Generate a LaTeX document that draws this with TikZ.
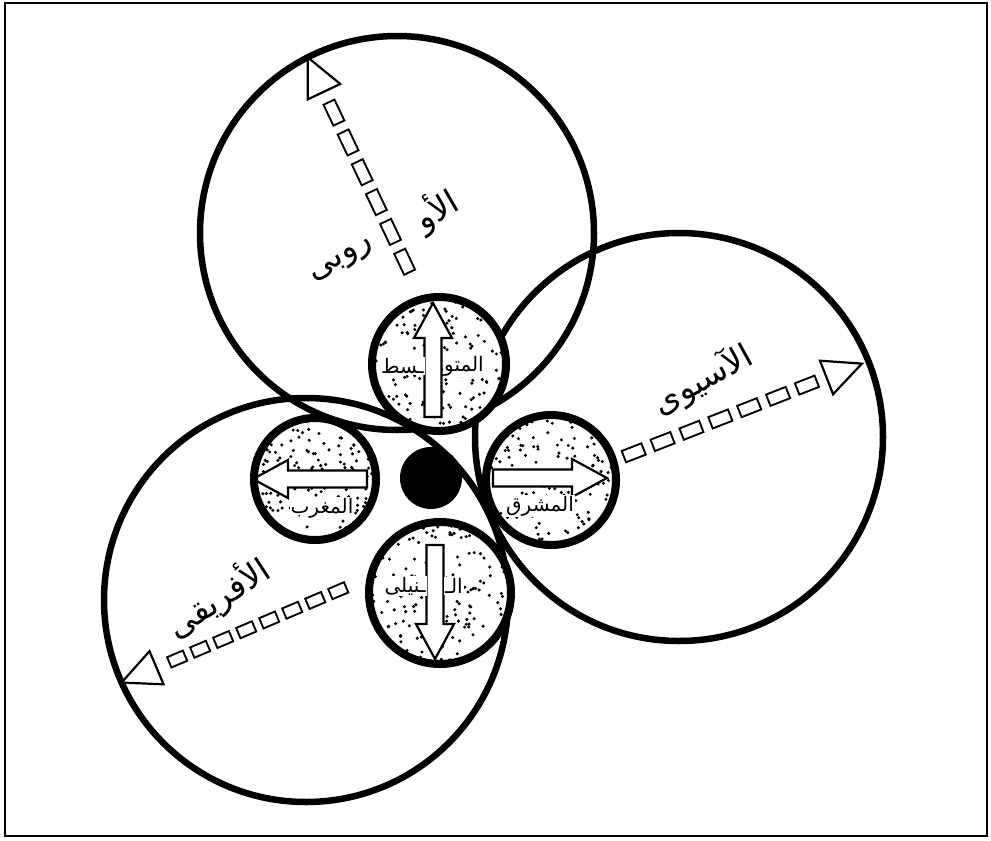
\documentclass[tikz,border=0pt]{standalone}
\usepackage{fontspec}
\newfontfamily\arabicfont[Script=Arabic]{DejaVu Sans}
\TeXXeTstate=1
\usetikzlibrary{calc}
\begin{document}
\begin{tikzpicture}[x=1pt,y=-1pt,
  bigring/.style={circle, draw, line width=6.5pt, inner sep=0pt},
  smallring/.style={circle, draw, line width=8pt, inner sep=0pt},
  blockarrow/.style={draw, fill=white, line width=2.2pt, line join=miter},
  raytri/.style={draw, fill=white, line width=2.2pt, line join=miter},
  biglabel/.style={font=\arabicfont\fontsize{33}{35}\selectfont, inner sep=0pt},
  smalllabel/.style={font=\arabicfont\fontsize{20}{22}\selectfont, fill=white, inner sep=1pt},
  stipple/.style={fill=black}]
\useasboundingbox (0,0) rectangle (991,841);
\draw[line width=2pt] (5,3) rectangle (987,836);

% big circles
\node[bigring, minimum size=394pt] (eu) at (397,233) {};
\node[bigring, minimum size=408pt] (as) at (679,437) {};
\node[bigring, minimum size=404pt] (af) at (306,600) {};

% rays: chains of hollow rectangles with open triangle
\coordinate (euA) at (410,273); \coordinate (euB) at (327,98);
\coordinate (asA) at (623,457); \coordinate (asB) at (820,380);
\coordinate (afA) at (347,587); \coordinate (afB) at (163,665);

\draw[line width=14pt, dash pattern=on 25pt off 8pt] (euA) -- (euB);
\draw[white, line width=10pt, dash pattern=on 21pt off 12pt, dash phase=31pt] (euA) -- (euB);
\draw[line width=14pt, dash pattern=on 23pt off 8pt] (asA) -- (asB);
\draw[white, line width=10pt, dash pattern=on 19pt off 12pt, dash phase=29pt] (asA) -- (asB);
\draw[line width=13pt, dash pattern=on 19pt off 6pt] (afA) -- (afB);
\draw[white, line width=9pt, dash pattern=on 15pt off 10pt, dash phase=23pt] (afA) -- (afB);

\foreach \r in {eu,as,af}{
  \coordinate (\r M) at ($(\r B)!-7pt!(\r A)$);
  \coordinate (\r T) at ($(\r B)!-45pt!(\r A)$);
  \draw[raytri] (\r T) -- ($(\r M)!18pt!90:(\r A)$) -- ($(\r M)!18pt!-90:(\r A)$) -- cycle;
}

% big labels
\node[biglabel, rotate=30] (eul1) at (437,210) {\beginR الأو\endR};
\node[biglabel, rotate=30] (eul2) at (343,262) {\beginR روبى\endR};
\node[biglabel, rotate=29] (asl) at (703,380) {\beginR الآسيوى\endR};
\node[biglabel, rotate=33] (afl) at (218,598) {\beginR الأفريقى\endR};

% small circles
\pgfmathsetseed{7}
\foreach \n/\cx/\cy/\rr in {tc/439/364/67, lc/315/479/61, rc/551/480/65, bc/440/593/71}{
  \fill[white] (\cx,\cy) circle[radius=\rr pt];
  \begin{scope}
    \clip (\cx,\cy) circle[radius=\rr pt];
    \foreach \i in {1,...,180}{
      \fill[stipple] ($(\cx,\cy)+(rand*\rr,rand*\rr)$) circle[radius=1.7pt];
    }
  \end{scope}
}

% block arrows
\begin{scope}[shift={(433,360)}, rotate=90]
  \draw[blockarrow] (-57,-8.5) -- (22,-8.5) -- (22,-19) -- (57,0) -- (22,19) -- (22,8.5) -- (-57,8.5) -- cycle;
\end{scope}
\begin{scope}[shift={(310,479)}, rotate=180]
  \draw[blockarrow] (-57,-8.5) -- (22,-8.5) -- (22,-19) -- (57,0) -- (22,19) -- (22,8.5) -- (-57,8.5) -- cycle;
\end{scope}
\begin{scope}[shift={(550,478)}]
  \draw[blockarrow] (-57,-8.5) -- (22,-8.5) -- (22,-19) -- (57,0) -- (22,19) -- (22,8.5) -- (-57,8.5) -- cycle;
\end{scope}
\begin{scope}[shift={(435,602)}, rotate=-90]
  \draw[blockarrow] (-57,-8.5) -- (22,-8.5) -- (22,-19) -- (57,0) -- (22,19) -- (22,8.5) -- (-57,8.5) -- cycle;
\end{scope}

% small labels
\node[smalllabel, anchor=west] (tcr) at (443,366) {\beginR المتو\endR};
\node[smalllabel, anchor=east] (tcl) at (425,366) {\beginR ـسط\endR};
\node[smalllabel] (lcl) at (322,508) {\beginR المغرب\endR};
\node[smalllabel] (rcl) at (540,506) {\beginR المشرق\endR};
\node[smalllabel, anchor=west] (bcr) at (444,586) {\beginR الـ\endR};
\node[smalllabel, anchor=east] (bcl) at (427,586) {\beginR ـنيلى\endR};

% rings of small circles
\node[smallring, minimum size=134pt] (tc) at (439,364) {};
\node[smallring, minimum size=122pt] (lc) at (315,479) {};
\node[smallring, minimum size=130pt] (rc) at (551,480) {};
\node[smallring, minimum size=142pt] (bc) at (440,593) {};

% centre
\node[circle, fill=black, minimum size=62pt, inner sep=0pt] (eg) at (431,478) {};
\end{tikzpicture}
\end{document}
